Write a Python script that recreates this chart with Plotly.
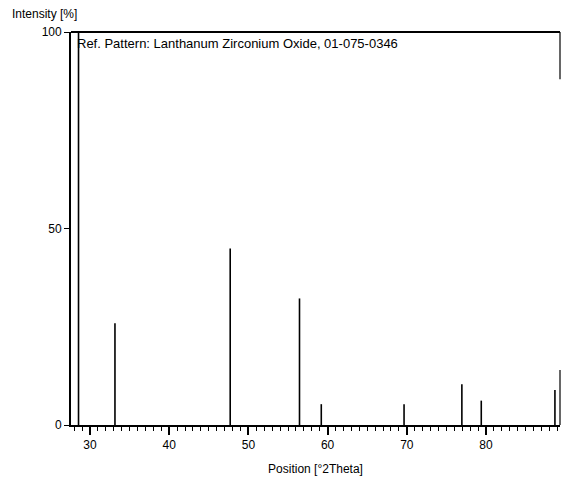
import plotly.graph_objects as go

# Reference pattern peaks (position in degrees 2Theta, relative intensity %)
positions = [28.55, 33.15, 47.7, 56.45, 59.2, 69.65, 76.95, 79.4, 88.7]
intensities = [100, 25.9, 44.9, 32.2, 5.3, 5.3, 10.4, 6.2, 8.9]

x_ticks = [30, 40, 50, 60, 70, 80]
y_ticks = [0, 50, 100]
title_text = "Ref. Pattern: Lanthanum Zirconium Oxide, 01-075-0346"

FONT = "Liberation Sans Narrow, Arial Narrow, Liberation Sans, Arial, sans-serif"

xs, ys = [], []
for p, h in zip(positions, intensities):
    xs += [p, p, None]
    ys += [0, h, None]

fig = go.Figure()
fig.add_trace(go.Scatter(x=xs, y=ys, mode="lines",
                         line=dict(color="black", width=1.6),
                         hoverinfo="skip", showlegend=False))

fig.update_layout(
    width=563, height=481,
    margin=dict(l=71, r=3, t=32, b=56),
    paper_bgcolor="white", plot_bgcolor="white",
    font=dict(family=FONT, size=12, color="black"),
    xaxis=dict(range=[27.6, 89.34], tickvals=x_ticks, ticks="outside",
               ticklen=8, tickwidth=1.5, tickcolor="black",
               showline=True, linecolor="black", linewidth=1.8,
               showgrid=False, zeroline=False,
               minor=dict(dtick=1, ticks="outside", ticklen=4, tickwidth=1.2,
                          tickcolor="black", showgrid=False),
               title=dict(text="Position [°2Theta]", standoff=13,
                          font=dict(family=FONT, size=12))),
    yaxis=dict(range=[0, 100], tickvals=y_ticks, ticks="outside",
               ticklen=5, tickwidth=1.2, tickcolor="black",
               showline=True, linecolor="black", linewidth=1.8,
               showgrid=False, zeroline=False),
)

# top border
fig.add_shape(type="line", xref="paper", yref="paper", x0=0, x1=1, y0=1, y1=1,
              line=dict(color="black", width=1.8))
# right border (partially visible)
fig.add_shape(type="line", xref="paper", yref="paper", x0=1, x1=1, y0=0.88, y1=1,
              line=dict(color="black", width=1.2))
fig.add_shape(type="line", xref="paper", yref="paper", x0=1, x1=1, y0=0, y1=0.14,
              line=dict(color="black", width=1.2))

fig.add_annotation(text="Intensity [%]", xref="paper", yref="paper",
                   x=-0.125, y=1.045, xanchor="left", yanchor="middle",
                   showarrow=False, font=dict(family=FONT, size=12))
fig.add_annotation(text=title_text, xref="paper", yref="paper",
                   x=0.008, y=0.97, xanchor="left", yanchor="middle",
                   showarrow=False, font=dict(family=FONT, size=13))

fig.write_html("out.html")
